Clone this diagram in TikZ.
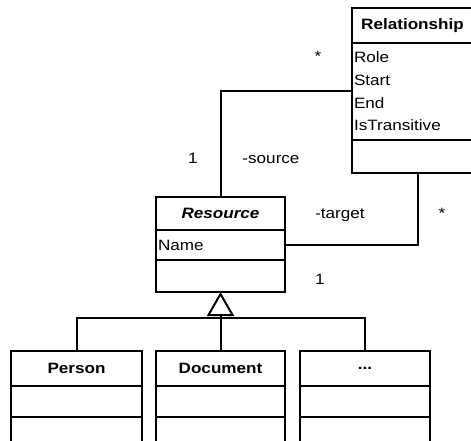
\documentclass[tikz,border=0pt]{standalone}
\usepackage{fontspec}
\setmainfont{Liberation Sans}[FakeStretch=1.14]
\usetikzlibrary{arrows.meta,positioning}
\newcommand{\umlfont}{\fontsize{15pt}{22.7pt}\selectfont}
\newcommand{\moreclasses}{...}
\tikzset{
  >={Triangle[open,length=24pt,width=27pt]},
  wire/.style={line width=2pt,line join=miter},
  clshead/.style={draw,line width=2pt,outer sep=0pt,inner sep=0pt,
    minimum width=#1,minimum height=35pt,font=\umlfont\bfseries},
  attrs/.style={draw,line width=2pt,outer sep=0pt,inner xsep=2pt,inner ysep=0pt,
    text width=#1,align=left,font=\umlfont},
  lbl/.style={anchor=base,inner sep=0pt,font=\umlfont},
}

\begin{document}
\begin{tikzpicture}[x=1pt,y=1pt]
  \useasboundingbox (0,0) rectangle (471,-441);
  \clip (0,0) rectangle (471,-441);
  % association class
  \node[clshead=121pt,anchor=north west] (relhead) at (352,-8) {Relationship};
  \node[attrs=117pt,minimum height=97pt,anchor=north] (relattr) at (relhead.south)
    {Role\\Start\\End\\IsTransitive};
  \node[attrs=117pt,minimum height=33pt,anchor=north] (relops) at (relattr.south) {};
  % base class
  \node[clshead=129pt,minimum height=33pt,anchor=north west,font=\umlfont\bfseries\itshape]
    (reshead) at (156,-197) {Resource};
  \node[attrs=125pt,minimum height=30pt,anchor=north] (resattr) at (reshead.south) {Name};
  \node[attrs=125pt,minimum height=32pt,anchor=north] (resops) at (resattr.south) {};
  % subclasses
  \foreach \n/\t/\x/\w in {per/Person/11/131,doc/Document/156/129,dots/\moreclasses/300/130}
  {
    \pgfmathsetmacro{\tw}{\w-4}
    \node[clshead=\w pt,anchor=north west] (\n head) at (\x,-351) {\t};
    \node[attrs=\tw pt,minimum height=31pt,anchor=north] (\n attr) at (\n head.south) {};
    \node[attrs=\tw pt,minimum height=35pt,anchor=north] (\n ops) at (\n attr.south) {};
  }
  % associations
  \draw[wire] (relattr.west) -| (reshead.north);
  \draw[wire] (resattr.east) -| ([xshift=5pt]relops.south);
  \node[lbl] (srcmany) at (318,-62) {*};
  \node[lbl] (srcone) at (193,-163) {1};
  \node[lbl] (srcrole) at (271,-163) {-source};
  \node[lbl] (tgtrole) at (340,-218) {-target};
  \node[lbl] (tgtmany) at (442,-218) {*};
  \node[lbl] (tgtone) at (320,-284) {1};
  % generalization
  \draw[wire] (perhead.north) -- ++(0,33) -| (dotshead.north);
  \draw[wire,->] (dochead.north) -- (resops.south);
\end{tikzpicture}
\end{document}
